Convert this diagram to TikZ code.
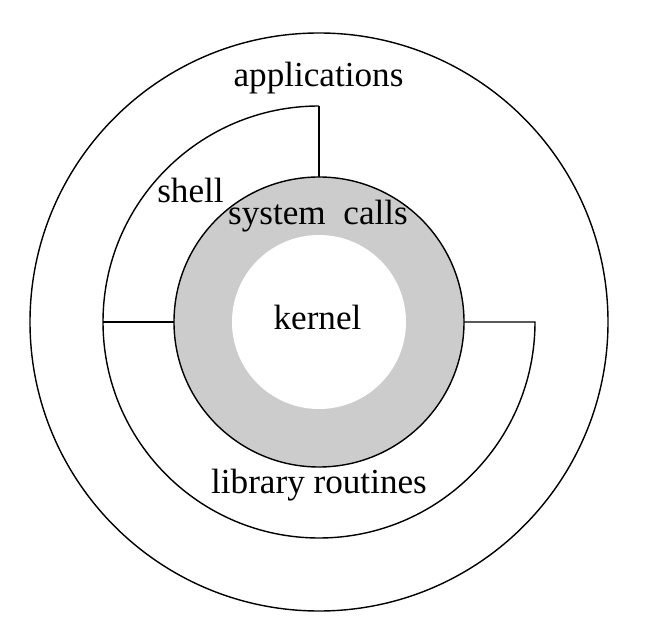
\documentclass[tikz,border=0pt]{standalone}
\usepackage{fontspec}
\setmainfont{Liberation Serif}
\usepackage{tikz}

\tikzset{
  ring/.style={line width=0.8pt},
  lbl/.style={anchor=base,inner sep=0pt,font=\fontsize{20}{22}\selectfont}
}

\begin{document}
\begin{tikzpicture}
\useasboundingbox (-6.38,-6.24) rectangle (6.62,6.44);
%\draw[help lines] (-6,-6) grid (6,6);

% outer ring
\draw[ring] (0,0) circle (5.78);

% shell / library split
\draw[ring] (0,4.32) arc (90:360:4.32) -- (2.9,0);
\draw[ring] (0,4.32) -- (0,2.9);
\draw[ring] (-4.32,0) -- (-2.9,0);

% system calls and kernel
\draw[ring,fill=black!20] (0,0) circle (2.9);
\fill[white] (0,0) circle (1.74);

\node[lbl] (apps) at (-0.01,4.70) {applications};
\node[lbl] (shell) at (-2.57,2.38) {shell};
\node[lbl] (syscalls) at (-0.02,1.94) {system\ \ calls};
\node[lbl] (kernel) at (-0.03,-0.16) {kernel};
\node[lbl] (libs) at (0,-3.42) {library routines};
\end{tikzpicture}
\end{document}
